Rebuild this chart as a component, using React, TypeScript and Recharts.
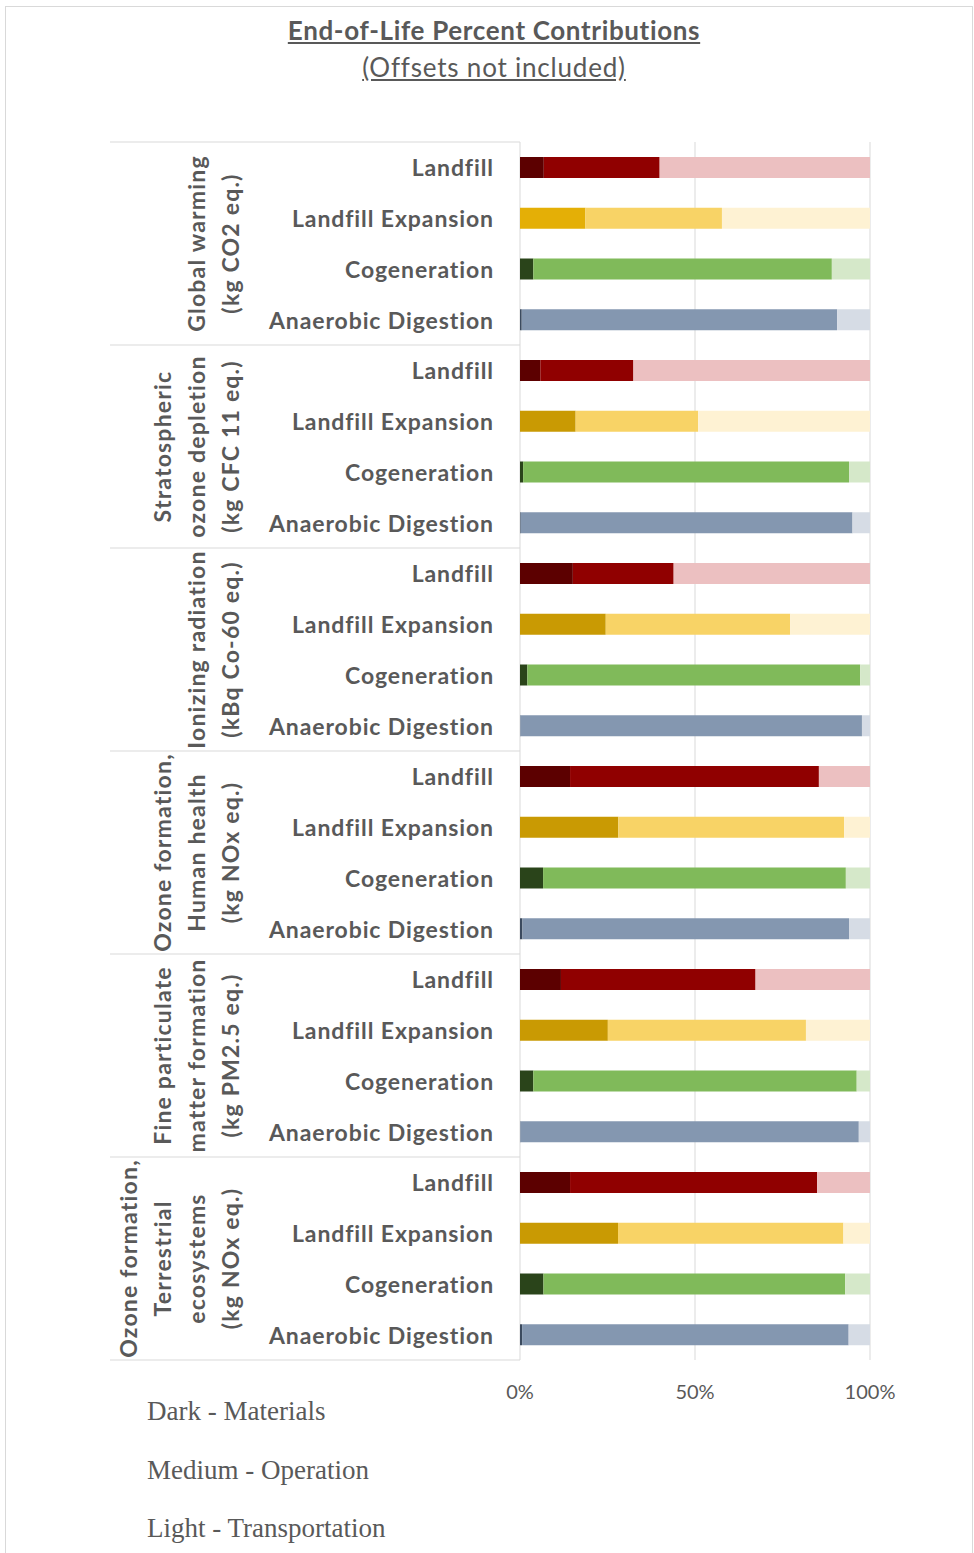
import { BarChart, Bar, XAxis, YAxis, CartesianGrid, Cell } from 'recharts'

// End-of-life contributions by life-cycle stage, in percent of each impact total
const categories = ['Landfill', 'Landfill Expansion', 'Cogeneration', 'Anaerobic Digestion']

const impactLabels = [
  ['Global warming', '(kg CO2 eq.)'],
  ['Stratospheric', 'ozone depletion', '(kg CFC 11 eq.)'],
  ['Ionizing radiation', '(kBq Co-60 eq.)'],
  ['Ozone formation,', 'Human health', '(kg NOx eq.)'],
  ['Fine particulate', 'matter formation', '(kg PM2.5 eq.)'],
  ['Ozone formation,', 'Terrestrial', 'ecosystems', '(kg NOx eq.)'],
]

// one row per impact, one value per category
const materials = [
  [6.8, 18.7, 3.8, 0.5],
  [5.8, 15.9, 0.9, 0.2],
  [15.1, 24.5, 2.1, 0.1],
  [14.3, 28.1, 6.6, 0.7],
  [11.7, 25.1, 3.8, 0.1],
  [14.3, 28.0, 6.7, 0.6],
]
const operation = [
  [33.1, 39.0, 85.3, 90.1],
  [26.6, 35.0, 93.1, 94.8],
  [28.8, 52.7, 95.1, 97.6],
  [71.1, 64.5, 86.5, 93.3],
  [55.6, 56.6, 92.4, 96.7],
  [70.6, 64.4, 86.2, 93.3],
]
const transportation = [
  [60.1, 42.3, 10.9, 9.4],
  [67.6, 49.1, 6.0, 5.0],
  [56.1, 22.8, 2.8, 2.3],
  [14.6, 7.4, 6.9, 6.0],
  [32.7, 18.3, 3.8, 3.2],
  [15.1, 7.6, 7.1, 6.1],
]

const xTicks = [0, 50, 100]
const legendLines = ['Dark - Materials', 'Medium - Operation', 'Light - Transportation']

// dark / medium / light shade per category
const palette = [
  ['#5c0000', '#900000', '#ecc0c1'],
  ['#c99a03', '#f8d366', '#fef2d3'],
  ['#2a441a', '#80ba5a', '#d5e8c9'],
  ['#3b4a5e', '#8497b0', '#d6dce5'],
]
const firstExpansionDark = '#e4af06'

const rows = impactLabels.flatMap((_, gi) =>
  categories.map((name, ci) => ({
    key: `${gi}-${ci}`,
    name,
    group: gi,
    cat: ci,
    materials: materials[gi][ci],
    operation: operation[gi][ci],
    transportation: transportation[gi][ci],
  }))
)

const W = 974
const H = 1553
const TOP = 142
const BOTTOM = 1360
const PLOT_LEFT = 520
const PLOT_RIGHT = 870
const BAND = (BOTTOM - TOP) / rows.length
const TEXT = '#595959'
const GRID = '#d9d9d9'
const FONT = 'Lato, "Open Sans", sans-serif'

const shade = (row: typeof rows[number], level: number) => {
  if (level === 0 && row.cat === 1 && row.group === 0) return firstExpansionDark
  return palette[row.cat][level]
}

function RowTick(props: any) {
  const { y, payload } = props
  const row = rows[payload.index]
  const lines = impactLabels[row.group]
  const top = y - BAND / 2
  return (
    <g>
      <text x={494} y={y} textAnchor="end" dominantBaseline="central" fill={TEXT}
        style={{ fontFamily: FONT, fontWeight: 700, fontSize: 23, letterSpacing: 0.9 }}>
        {row.name}
      </text>
      {row.cat === 0 && (
        <>
          <line x1={110} x2={PLOT_LEFT} y1={top} y2={top} stroke={GRID} />
          {lines.map((l, i) => {
            const cx = 230 - (lines.length - 1 - i) * 34
            const cy = top + 2 * BAND
            return (
              <text key={i} x={cx} y={cy} textAnchor="middle" dominantBaseline="central" fill={TEXT}
                transform={`rotate(-90 ${cx} ${cy})`}
                style={{ fontFamily: FONT, fontWeight: 700, fontSize: 23, letterSpacing: 1.2 }}>
                {l}
              </text>
            )
          })}
        </>
      )}
      {payload.index === rows.length - 1 && (
        <line x1={110} x2={PLOT_LEFT} y1={y + BAND / 2} y2={y + BAND / 2} stroke={GRID} />
      )}
    </g>
  )
}

function PercentTick(props: any) {
  const { x, payload } = props
  return (
    <text x={x} y={BOTTOM + 31} textAnchor="middle" dominantBaseline="central" fill={TEXT}
      style={{ fontFamily: FONT, fontSize: 20 }}>
      {payload.value}%
    </text>
  )
}

export default function App() {
  return (
    <div style={{ position: 'absolute', left: 0, top: 0, width: W, height: H, background: '#fff', overflow: 'hidden' }}>
      <div style={{ position: 'absolute', left: 5, top: 6, width: W - 8, height: H, border: `1px solid ${GRID}` }} />
      <div style={{ position: 'absolute', left: 7, width: W, top: 12, textAlign: 'center', color: TEXT, fontFamily: FONT }}>
        <div style={{ fontSize: 26, fontWeight: 700, textDecoration: 'underline', lineHeight: '36px', letterSpacing: 0.65 }}>
          End-of-Life Percent Contributions
        </div>
        <div style={{ fontSize: 26, textDecoration: 'underline', lineHeight: '36px', marginTop: 1, letterSpacing: 0.8 }}>
          (Offsets not included)
        </div>
      </div>
      <div style={{ position: 'absolute', left: 0, top: 0 }}>
        <BarChart width={W} height={H} data={rows} layout="vertical" barSize={21}
          margin={{ top: TOP, right: W - PLOT_RIGHT, bottom: H - BOTTOM - 40, left: 0 }}>
          <CartesianGrid horizontal={false} stroke={GRID} />
          <XAxis type="number" domain={[0, 100]} ticks={xTicks} axisLine={false} tickLine={false}
            height={40} tick={<PercentTick />} />
          <YAxis type="category" dataKey="key" width={PLOT_LEFT} interval={0} axisLine={false}
            tickLine={false} tick={<RowTick />} />
          <Bar dataKey="materials" stackId="s" isAnimationActive={false}>
            {rows.map(r => <Cell key={r.key} fill={shade(r, 0)} />)}
          </Bar>
          <Bar dataKey="operation" stackId="s" isAnimationActive={false}>
            {rows.map(r => <Cell key={r.key} fill={shade(r, 1)} />)}
          </Bar>
          <Bar dataKey="transportation" stackId="s" isAnimationActive={false}>
            {rows.map(r => <Cell key={r.key} fill={shade(r, 2)} />)}
          </Bar>
        </BarChart>
      </div>
      <div style={{ position: 'absolute', left: 147, top: 1392, color: TEXT, fontFamily: '"Liberation Serif", "Times New Roman", serif', fontSize: 27 }}>
        {legendLines.map(l => (
          <div key={l} style={{ height: 58.5, lineHeight: '38px' }}>{l}</div>
        ))}
      </div>
    </div>
  )
}
